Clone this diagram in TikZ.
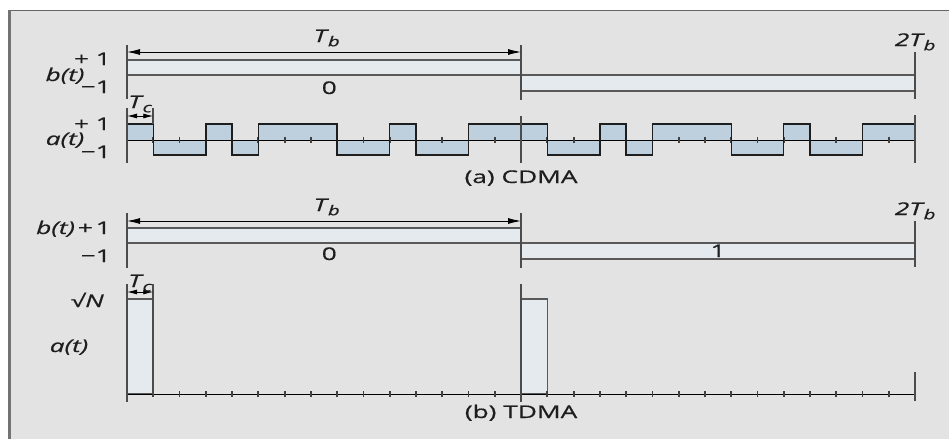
\documentclass[tikz,border=0pt]{standalone}
\usepackage{fontspec}
\setmainfont{Open Sans}[FakeStretch=1.5, FakeBold=0.6]
\usepackage{graphicx}
\usetikzlibrary{arrows.meta}
\definecolor{panelgray}{RGB}{227,227,227}
\definecolor{chipblue}{RGB}{190,207,221}
\definecolor{barblue}{RGB}{229,234,239}
\definecolor{inkgray}{RGB}{30,30,30}
\newcommand{\Tsub}[1]{\textit{T}\kern-0.06em\raisebox{-0.45ex}{\fontsize{13.5}{14}\selectfont\textit{#1}}}
\tikzset{
    lbl/.style={inner sep=0pt, text=inkgray},
    bitbar/.style={fill=barblue, draw=black!65, line width=1.3pt},
    sig/.style={draw=inkgray, line width=1.4pt, line join=miter},
    axisline/.style={draw=black, line width=1pt},
    chiptick/.style={draw=black!75, line width=1.8pt},
    vmark/.style={draw=black!70, line width=1.6pt},
    bitspan/.style={draw=black, line width=0.9pt, {Latex[length=13pt,width=6pt]}-{Latex[length=13pt,width=6pt]}},
    chipspan/.style={draw=black, line width=0.9pt, {Latex[length=10pt,width=5pt]}-{Latex[length=10pt,width=5pt]}},
}
\begin{document}
\begin{tikzpicture}[x=1pt, y=-1pt, font=\fontsize{17.5}{19}\selectfont]
\useasboundingbox (0,0) rectangle (949,439);
\fill[panelgray] (8,10) rectangle (949,439);
\draw[black!60, line width=1pt] (8,10.5) -- (949,10.5);
\draw[black!55, line width=3pt] (9.5,10) -- (9.5,439);

% axis labels on the left
\node[lbl, anchor=base east] (bhiA) at (111,65) {+ 1};
\node[lbl, anchor=base] (btA) at (65,81) {\textit{b(t)}};
\node[lbl, anchor=base east] (bloA) at (111,93) {−1};
\node[lbl, anchor=base east] (ahiA) at (111,130) {+ 1};
\node[lbl, anchor=base] (atA) at (65,145) {\textit{a(t)}};
\node[lbl, anchor=base east] (aloA) at (111,158) {−1};
\node[lbl, anchor=base east] (bhiB) at (111,234) {\textit{b(t)}\,+\,1};
\node[lbl, anchor=base east] (bloB) at (111,262) {−1};
\node[lbl, anchor=base east] (sqrtB) at (104,307) {√\textit{N}};
\node[lbl, anchor=base] (atB) at (69,352) {\textit{a(t)}};

\begin{scope}[xshift=127pt, x=26.27pt]
% (a) CDMA, data bit
\filldraw[bitbar] (0,60) rectangle (15,75);
\filldraw[bitbar] (15,75) rectangle (30,91);
\draw[vmark] (0,45) -- (0,99);
\draw[vmark] (15,45) -- (15,100);
\draw[vmark] (30,52) -- (30,99);
\draw[bitspan] (0,52) -- (15,52);
\node[lbl, anchor=base] (tbA) at (7.6,42) {\Tsub{b}};
\node[lbl, anchor=base] (ttbA) at (30,46) {\textit{2}\Tsub{b}};
\node[lbl, anchor=base] (zeroA) at (7.7,94) {0};

% (a) CDMA, spreading code
\fill[chipblue] (0,124) rectangle (1,140);
\fill[chipblue] (1,140) rectangle (3,155);
\fill[chipblue] (3,124) rectangle (4,140);
\fill[chipblue] (4,140) rectangle (5,155);
\fill[chipblue] (5,124) rectangle (8,140);
\fill[chipblue] (8,140) rectangle (10,155);
\fill[chipblue] (10,124) rectangle (11,140);
\fill[chipblue] (11,140) rectangle (13,155);
\fill[chipblue] (13,124) rectangle (16,140);
\fill[chipblue] (16,140) rectangle (18,155);
\fill[chipblue] (18,124) rectangle (19,140);
\fill[chipblue] (19,140) rectangle (20,155);
\fill[chipblue] (20,124) rectangle (23,140);
\fill[chipblue] (23,140) rectangle (25,155);
\fill[chipblue] (25,124) rectangle (26,140);
\fill[chipblue] (26,140) rectangle (28,155);
\fill[chipblue] (28,124) rectangle (30,140);
\draw[axisline] (0,140) -- (30,140);
\foreach \k in {1,...,29}
    \draw[chiptick] (\k,137) -- (\k,143);
\draw[sig] (0,124) -- (1,124) -- (1,155) -- (3,155) -- (3,124) -- (4,124) -- (4,155)
    -- (5,155) -- (5,124) -- (8,124) -- (8,155) -- (10,155) -- (10,124) -- (11,124)
    -- (11,155) -- (13,155) -- (13,124) -- (16,124) -- (16,155) -- (18,155) -- (18,124)
    -- (19,124) -- (19,155) -- (20,155) -- (20,124) -- (23,124) -- (23,155) -- (25,155)
    -- (25,124) -- (26,124) -- (26,155) -- (28,155) -- (28,124) -- (30,124) -- (30,140);
\draw[vmark] (0,108) -- (0,163);
\draw[vmark] (1,108) -- (1,124);
\draw[vmark] (15,116) -- (15,163);
\draw[vmark] (30,115) -- (30,163);
\draw[chipspan] (0,116) -- (1,116);
\node[lbl, anchor=base] (tcA) at (0.5,108) {\Tsub{c}};
\node[lbl, anchor=base] (capA) at (15,183) {(a) CDMA};

% (b) TDMA, data bit
\filldraw[bitbar] (0,228) rectangle (15,243);
\filldraw[bitbar] (15,243) rectangle (30,259);
\draw[vmark] (0,213) -- (0,268);
\draw[vmark] (15,213) -- (15,268);
\draw[vmark] (30,221) -- (30,267);
\draw[bitspan] (0,221) -- (15,221);
\node[lbl, anchor=base] (tbB) at (7.6,211) {\Tsub{b}};
\node[lbl, anchor=base] (ttbB) at (30,215) {\textit{2}\Tsub{b}};
\node[lbl, anchor=base] (zeroB) at (7.7,260) {0};
\node[lbl, anchor=base] (oneB) at (22.5,257) {1};

% (b) TDMA, time slots
\filldraw[bitbar] (0,299) rectangle (1,394);
\filldraw[bitbar] (15,299) rectangle (16,394);
\draw[axisline] (0,394) -- (30,394);
\foreach \k in {1,...,29}
    \draw[chiptick] (\k,391) -- (\k,397);
\draw[vmark] (0,284) -- (0,402);
\draw[vmark] (1,284) -- (1,394);
\draw[vmark] (15,284) -- (15,402);
\draw[vmark] (30,372) -- (30,401);
\draw[chipspan] (0,292) -- (1,292);
\node[lbl, anchor=base] (tcB) at (0.5,287) {\Tsub{c}};
\node[lbl, anchor=base] (capB) at (15,418) {(b) TDMA};
\end{scope}
\end{tikzpicture}
\end{document}
